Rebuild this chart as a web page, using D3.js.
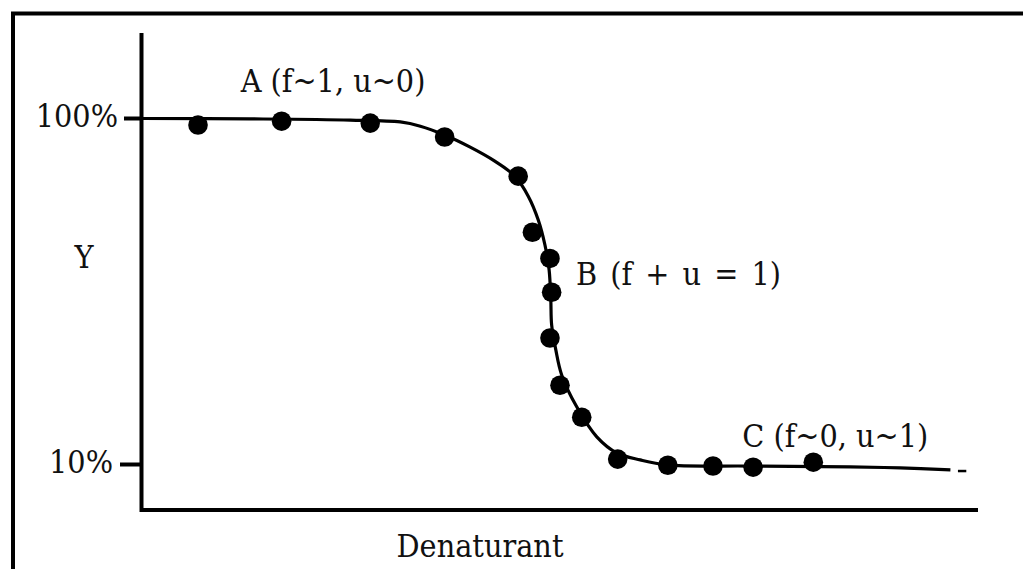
<!DOCTYPE html>
<html>
<head>
<meta charset="utf-8">
<script src="https://cdn.jsdelivr.net/npm/d3@7"></script>
<style>
  html, body { margin: 0; padding: 0; background: #fff; }
  svg { display: block; }
  text { font-family: "DejaVu Serif Condensed", "DejaVu Serif", serif; font-stretch: condensed; fill: #111; }
</style>
</head>
<body>
<svg id="chart" width="1023" height="569"></svg>
<script>
// Denaturation curve: signal Y versus denaturant concentration (arbitrary units)
const pointX = [0.67, 1.67, 2.73, 3.62, 4.50, 4.67, 4.88, 4.90, 4.88, 5.00, 5.26, 5.69, 6.29, 6.83, 7.31, 8.03];
const pointY = [98.3, 99.3, 98.8, 95.2, 85.0, 70.4, 63.6, 54.8, 42.9, 30.6, 22.3, 11.4, 9.8, 9.6, 9.3, 10.6];

// Fitted transition curve
const curveX = [0, 1.29, 2.49, 3.09, 3.33, 3.62, 3.92, 4.22, 4.46, 4.62, 4.74, 4.82, 4.87, 4.89, 4.90, 4.95, 5.02, 5.20, 5.44, 5.68, 5.96, 6.28, 7.27, 8.47, 9.07, 9.67];
const curveY = [100, 99.9, 99.6, 99.1, 98.0, 95.7, 92.6, 88.9, 85.0, 79.8, 73.6, 67.1, 60.6, 52.8, 46.3, 39.8, 33.3, 25.0, 17.2, 13.0, 11.2, 9.9, 9.6, 9.4, 9.1, 8.6];
const tailX = [9.76, 9.86];
const tailY = [8.3, 8.3];

const yTicks = [100, 10];
const yTickLabels = ["100%", "10%"];
const yLabel = "Y";
const xLabel = "Denaturant";

// State annotations along the curve
const noteText = ["A (f~1, u~0)", "B (f + u = 1)", "C (f~0, u~1)"];
const noteX = [1.18, 5.19, 7.18];
const noteY = [106.9, 56.7, 14.5];

const svg = d3.select("#chart");

const x = d3.scaleLinear().domain([0, 10]).range([142, 978]);
const y = d3.scaleLinear().domain([10, 100]).range([464.5, 118.5]);

// outer frame (continues past right and bottom edges)
svg.append("path")
  .attr("d", "M13,575 L13,13.5 L1030,13.5")
  .attr("fill", "none").attr("stroke", "#000").attr("stroke-width", 4);

// axes
svg.append("path")
  .attr("d", `M141.5,33 L141.5,510 L978,510`)
  .attr("fill", "none").attr("stroke", "#000").attr("stroke-width", 4)
  .attr("stroke-linejoin", "miter");

// y ticks (the lower tick is a little longer)
svg.selectAll(".ytick").data(yTicks).join("line")
  .attr("class", "ytick")
  .attr("x1", d => d === 100 ? 124 : 120).attr("x2", 141.5)
  .attr("y1", d => y(d)).attr("y2", d => y(d))
  .attr("stroke", "#000").attr("stroke-width", 4);

svg.selectAll(".ylab").data(yTicks).join("text")
  .attr("class", "ylab")
  .attr("x", d => d === 100 ? 118 : 113).attr("y", d => y(d) + 8.5)
  .attr("text-anchor", "end")
  .attr("font-size", 32)
  .text((d, i) => yTickLabels[i]);

svg.append("text").attr("x", 84).attr("y", 268)
  .attr("text-anchor", "middle").attr("font-size", 32).text(yLabel);

svg.append("text").attr("x", 480).attr("y", 557)
  .attr("text-anchor", "middle").attr("font-size", 32).text(xLabel);

// fitted curve
const line = d3.line().x(d => x(d[0])).y(d => y(d[1])).curve(d3.curveCatmullRom.alpha(0.5));
svg.append("path")
  .datum(d3.zip(curveX, curveY))
  .attr("d", line)
  .attr("fill", "none").attr("stroke", "#000").attr("stroke-width", 3.2);
svg.append("path")
  .datum(d3.zip(tailX, tailY))
  .attr("d", d3.line().x(d => x(d[0])).y(d => y(d[1])))
  .attr("fill", "none").attr("stroke", "#000").attr("stroke-width", 2.5);

// measured points
svg.selectAll(".pt").data(d3.zip(pointX, pointY)).join("circle")
  .attr("class", "pt")
  .attr("cx", d => x(d[0])).attr("cy", d => y(d[1]))
  .attr("r", 9.8).attr("fill", "#000");

// annotations
svg.selectAll(".note").data(noteText).join("text")
  .attr("class", "note")
  .attr("x", (d, i) => x(noteX[i])).attr("y", (d, i) => y(noteY[i]))
  .attr("font-size", 32)
  .attr("word-spacing", (d, i) => i === 1 ? 4 : 0)
  .text(d => d);
</script>
</body>
</html>
